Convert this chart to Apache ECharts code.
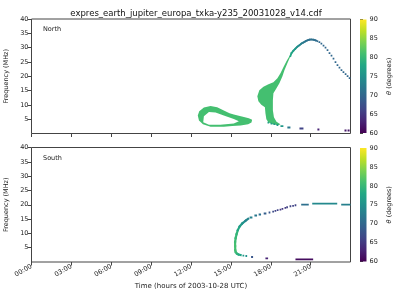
<!DOCTYPE html>
<html><head><meta charset="utf-8">
<script src="https://cdn.jsdelivr.net/npm/echarts@6/dist/echarts.min.js"></script>
<style>html,body{margin:0;padding:0;background:#fff}#c{width:400px;height:300px}</style>
</head><body><div id="c"></div>
<script>
// ---------------- data ----------------
const titleText = 'expres_earth_jupiter_europa_txka-y235_20031028_v14.cdf';
const hourTicks = [0, 3, 6, 9, 12, 15, 18, 21];
const hourLabels = ['00:00', '03:00', '06:00', '09:00', '12:00', '15:00', '18:00', '21:00'];
const freqTicks = [5, 10, 15, 20, 25, 30, 35, 40];
const thetaTicks = [60, 65, 70, 75, 80, 85, 90];
const panelNames = ['North', 'South'];

// North: filled emission regions, [hour, MHz]
const northRingTheta = 81;
const northRingOuter = [[12.51,6.3],[12.62,7.8],[12.97,9.1],[13.47,9.6],[13.97,9.2],[14.47,8.0],[14.9,7.1],[15.22,6.6],[15.6,6.2],[15.98,5.8],[16.35,5.3],[16.6,4.8],[16.55,3.8],[16.3,3.2],[15.73,2.8],[15.1,2.6],[14.47,2.4],[13.47,2.4],[12.9,3.2],[12.6,4.5]];
const northRingInner = [[12.92,3.9],[12.97,6.0],[13.35,7.5],[13.85,7.3],[14.47,6.3],[15.22,5.1],[15.6,4.3],[15.22,3.5],[14.2,3.1],[13.35,3.1]];
const northBlobTheta = 81;
const northBlob = [[16.99,13.04],[17.14,15.14],[17.45,16.36],[17.83,17.24],[18.2,17.94],[18.5,19.34],[18.73,21.08],[18.95,23.18],[19.18,25.28],[19.4,27.03],[19.56,28.08],[19.48,27.03],[19.25,24.58],[19.03,22.13],[18.88,20.03],[18.65,17.59],[18.43,15.84],[18.2,14.09],[18.16,11.64],[18.16,8.15],[18.24,5.7],[18.43,4.13],[18.73,3.25],[18.58,2.9],[18.12,3.25],[17.82,3.95],[17.67,5.0],[17.6,7.1],[17.56,9.2],[17.29,10.07],[17.07,11.29]];

// North: continuous arc trace [hour, MHz, theta]
const northArc = [[19.48,27.03,78],[19.56,28.08,78],[19.71,28.95,77],[19.86,29.65,76],[20.01,30.35,75],[20.16,30.87,74],[20.31,31.4,73],[20.46,31.82,72],[20.61,32.2,72],[20.76,32.52,71],[20.91,32.76,71],[21.06,32.83,71],[21.21,32.76,71],[21.36,32.55,71],[21.51,32.27,70]];

// North: individual cells / dashes [hourStart, hourEnd, MHz, theta]
const northCells = [
  [17.82,17.82,3.78,77],[18.05,18.05,3.43,77],[18.27,18.27,3.25,76],[18.5,18.5,2.97,76],
  [21.66,21.66,31.92,70],[21.81,21.81,31.4,70],
  [21.97,21.97,30.7,70],[22.12,22.12,30.0,70],[22.27,22.27,29.13,70],[22.42,22.42,28.08,70],
  [22.57,22.57,27.2,70],[22.72,22.72,26.15,70],[22.87,22.87,24.93,70],[23.02,23.02,23.88,70],
  [23.17,23.17,23.0,70],[23.32,23.32,22.13,70],[23.47,23.47,21.43,70],[23.63,23.63,20.73,70],
  [23.78,23.78,20.03,70],[23.93,23.93,19.34,70],
  [18.73,18.95,2.55,76],[19.25,19.48,2.1,72],[20.16,20.46,1.75,66],[21.51,21.66,1.4,63],
  [23.55,23.7,1.05,62],[23.78,23.93,1.05,62]
];

// South: continuous trace [hour, MHz, theta]
const southTrace = [[15.73,2.43,77],[15.58,2.61,78],[15.45,2.96,79],[15.36,3.5,80],[15.33,4.2,81],[15.32,5.5,81],[15.32,7.0,81],[15.36,8.35,80],[15.43,9.74,80],[15.52,11.13,79],[15.66,12.42,77],[15.86,13.5,76],[16.11,14.43,74],[16.3,15.1,73]];

// South: cells / dashes [hourStart, hourEnd, MHz, theta]
const southCells = [
  [16.41,16.62,15.55,73],[16.77,16.97,16.24,72],[17.09,17.27,16.59,71],[17.47,17.67,16.94,69],
  [17.84,17.97,17.29,68],[18.18,18.18,17.63,67],[18.35,18.35,17.84,66],[18.52,18.52,18.09,66],
  [18.73,18.73,18.33,65],[18.88,18.88,18.54,65],[19.1,19.1,18.89,65],[19.23,19.23,19.13,66],
  [19.48,19.48,19.48,66],[19.68,19.68,19.58,66],[19.86,19.86,19.83,66],
  [20.29,20.86,20.07,71],[21.12,23.0,20.42,74],[23.3,24.0,20.07,73],
  [15.94,15.94,2.26,76],[16.16,16.16,2.09,75],[16.52,16.67,1.74,68],[17.6,17.8,1.29,63],[19.86,21.19,0.94,61]
];

// ---------------- colour map ----------------
const VIR = ['#440154','#482475','#414487','#355f8d','#2a788e','#21918c','#22a884','#44bf70','#7ad151','#bddf26','#fde725'];
const TMIN = 60, TMAX = 90;
function hex2rgb(h){return [parseInt(h.substr(1,2),16),parseInt(h.substr(3,2),16),parseInt(h.substr(5,2),16)];}
function viridis(v){
  let s = (v - TMIN) / (TMAX - TMIN); s = Math.max(0, Math.min(1, s));
  const p = s * 10, i = Math.min(9, Math.floor(p)), f = p - i;
  const a = hex2rgb(VIR[i]), b = hex2rgb(VIR[i+1]);
  return 'rgb(' + a.map((x,k)=>Math.round(x + (b[k]-x)*f)).join(',') + ')';
}

// ---------------- render helpers ----------------
function area(poly){let s=0;for(let i=0;i<poly.length;i++){const a=poly[i],b=poly[(i+1)%poly.length];s+=a[0]*b[1]-b[0]*a[1];}return s;}
function polyRender(polys, theta){
  return function(params, api){
    const base = area(polys[0]);
    let d = '';
    polys.forEach((poly, k) => {
      let pts = poly;
      if (k > 0 && Math.sign(area(poly)) === Math.sign(base)) pts = poly.slice().reverse();
      pts.forEach((pt, i) => { const c = api.coord(pt); d += (i ? 'L' : 'M') + c[0].toFixed(2) + ' ' + c[1].toFixed(2); });
      d += 'Z';
    });
    return {type: 'path', shape: {pathData: d}, style: {fill: viridis(theta)}};
  };
}
function traceRender(pts, width){
  return function(params, api){
    const children = [];
    for (let i = 0; i < pts.length - 1; i++) {
      const a = api.coord([pts[i][0], pts[i][1]]), b = api.coord([pts[i+1][0], pts[i+1][1]]);
      children.push({type: 'line', shape: {x1: a[0], y1: a[1], x2: b[0], y2: b[1]},
        style: {stroke: viridis((pts[i][2] + pts[i+1][2]) / 2), lineWidth: width, lineCap: 'square'}});
    }
    return {type: 'group', children: children};
  };
}
function cellRender(params, api){
  const p0 = api.coord([api.value(0), api.value(2)]);
  const p1 = api.coord([api.value(1), api.value(2)]);
  let w = p1[0] - p0[0], x = p0[0];
  if (w < 1.7) { x = (p0[0] + p1[0]) / 2 - 0.85; w = 1.7; }
  return {type: 'rect', shape: {x: x, y: p0[1] - 0.9, width: w, height: 1.8}, style: {fill: viridis(api.value(3))}};
}
function barRender(params, api){
  const p0 = api.coord([0, TMIN]), p1 = api.coord([1, TMAX]);
  const stops = VIR.map((c, i) => ({offset: i / 10, color: c}));
  return {type: 'rect', shape: {x: p0[0], y: p1[1], width: p1[0]-p0[0], height: p0[1]-p1[1]},
    style: {fill: new echarts.graphic.LinearGradient(0, 1, 0, 0, stops)}};
}

// ---------------- chart ----------------
const FONT = 'DejaVu Sans';
const txt = '#222';
const panels = [{top: 19, height: 114.5}, {top: 147.5, height: 114.5}];
const grids = [], xAxes = [], yAxes = [];
panels.forEach((p, k) => {
  grids.push({left: 31.5, width: 319, top: p.top, height: p.height, show: true, borderColor: '#444', borderWidth: 1,
    containLabel: false, outerBoundsMode: 'none'});
  xAxes.push({type: 'value', gridIndex: k, min: 0, max: 24, interval: 3,
    axisLine: {show: false}, splitLine: {show: false},
    axisTick: {show: true, inside: false, length: 3.5, lineStyle: {color: '#444'}, customValues: hourTicks},
    axisLabel: {show: k === 1, rotate: 30, fontSize: 6.5, fontFamily: FONT, color: txt, margin: 4, customValues: hourTicks,
      formatter: v => { const i = hourTicks.indexOf(v); return i >= 0 ? hourLabels[i] : ''; }},
    name: k === 1 ? 'Time (hours of 2003-10-28 UTC)' : '', nameLocation: 'middle', nameGap: 21,
    nameTextStyle: {fontSize: 7, fontFamily: FONT, color: txt}});
  yAxes.push({type: 'value', gridIndex: k, min: 0, max: 40, interval: 5,
    axisLine: {show: false}, splitLine: {show: false},
    axisTick: {show: true, inside: false, length: 3.5, lineStyle: {color: '#444'}, customValues: freqTicks},
    axisLabel: {fontSize: 6.5, fontFamily: FONT, color: txt, margin: 3, customValues: freqTicks,
      formatter: v => freqTicks.indexOf(v) >= 0 ? String(v) : ''},
    name: 'Frequency (MHz)', nameLocation: 'middle', nameGap: 14.5,
    nameTextStyle: {fontSize: 6.5, fontFamily: FONT, color: txt}});
});
panels.forEach((p, k) => {
  grids.push({left: 360, width: 6.5, top: p.top + 0.5, height: p.height - 1, show: false, containLabel: false, outerBoundsMode: 'none'});
  xAxes.push({type: 'value', gridIndex: 2 + k, min: 0, max: 1, show: false});
  yAxes.push({type: 'value', gridIndex: 2 + k, min: TMIN, max: TMAX, interval: 5, position: 'right',
    axisLine: {show: false}, splitLine: {show: false},
    axisTick: {show: true, inside: false, length: 3, lineStyle: {color: '#444'}},
    axisLabel: {fontSize: 6.5, fontFamily: FONT, color: txt, margin: 3,
      formatter: v => thetaTicks.indexOf(v) >= 0 ? String(v) : ''},
    name: '{i|θ} (degrees)', nameLocation: 'middle', nameGap: 19, nameRotate: 90,
    nameTextStyle: {fontSize: 6.5, fontFamily: FONT, color: txt, rich: {i: {fontStyle: 'italic', fontSize: 6.5, fontFamily: FONT, color: txt}}}});
});

const series = [
  {type: 'custom', xAxisIndex: 0, yAxisIndex: 0, data: [[0, 0]], renderItem: polyRender([northRingOuter, northRingInner], northRingTheta), clip: true, silent: true},
  {type: 'custom', xAxisIndex: 0, yAxisIndex: 0, data: [[0, 0]], renderItem: polyRender([northBlob], northBlobTheta), clip: true, silent: true},
  {type: 'custom', xAxisIndex: 0, yAxisIndex: 0, data: [[0, 0]], renderItem: traceRender(northArc, 1.8), clip: true, silent: true},
  {type: 'custom', xAxisIndex: 0, yAxisIndex: 0, data: northCells, renderItem: cellRender, clip: true, silent: true},
  {type: 'custom', xAxisIndex: 1, yAxisIndex: 1, data: [[0, 0]], renderItem: traceRender(southTrace, 2.2), clip: true, silent: true},
  {type: 'custom', xAxisIndex: 1, yAxisIndex: 1, data: southCells, renderItem: cellRender, clip: true, silent: true},
  {type: 'custom', xAxisIndex: 2, yAxisIndex: 2, data: [[0, TMIN]], renderItem: barRender, silent: true},
  {type: 'custom', xAxisIndex: 3, yAxisIndex: 3, data: [[0, TMIN]], renderItem: barRender, silent: true}
];

const chart = echarts.init(document.getElementById('c'), null, {renderer: 'canvas'});
chart.setOption({
  animation: false,
  backgroundColor: '#fff',
  textStyle: {fontFamily: FONT},
  title: {text: titleText, left: 191, top: 4, textAlign: 'center',
    textStyle: {fontSize: 8.5, fontWeight: 'normal', fontFamily: FONT, color: '#111'}},
  graphic: panelNames.map((n, k) => ({type: 'text', left: 43, top: panels[k].top + 7,
    style: {text: n, fontSize: 6.5, fontFamily: FONT, fill: txt}})),
  grid: grids, xAxis: xAxes, yAxis: yAxes, series: series
});
</script></body></html>
